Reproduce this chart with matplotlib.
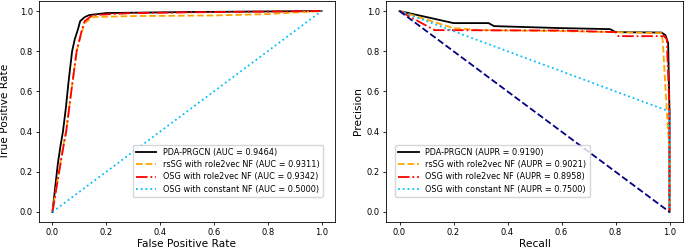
import matplotlib
matplotlib.use("Agg")
import matplotlib.pyplot as plt

# ROC data
roc_pda_fpr = [0.0, 0.01, 0.02, 0.03, 0.039, 0.05, 0.06, 0.073, 0.083, 0.095, 0.103, 0.12, 0.137, 0.2, 0.5, 1.0]
roc_pda_tpr = [0.0, 0.12, 0.24, 0.33, 0.40, 0.52, 0.65, 0.80, 0.86, 0.91, 0.95, 0.97, 0.98, 0.99, 0.995, 1.0]
roc_rssg_fpr = [0.0, 0.02, 0.04, 0.051, 0.07, 0.09, 0.11, 0.12, 0.15, 0.3, 0.6, 0.8, 1.0]
roc_rssg_tpr = [0.0, 0.17, 0.33, 0.40, 0.60, 0.80, 0.90, 0.94, 0.97, 0.975, 0.978, 0.985, 1.0]
roc_osg_fpr = [0.0, 0.02, 0.04, 0.051, 0.07, 0.09, 0.11, 0.12, 0.15, 0.3, 0.6, 1.0]
roc_osg_tpr = [0.0, 0.16, 0.32, 0.40, 0.60, 0.80, 0.91, 0.95, 0.98, 0.99, 0.995, 1.0]
roc_const_fpr = [0.0, 1.0]
roc_const_tpr = [0.0, 1.0]

# PR data
pr_pda_rec = [0.0, 0.2, 0.33, 0.35, 0.6, 0.78, 0.8, 0.97, 0.985, 0.995, 1.0, 1.0]
pr_pda_pre = [1.0, 0.94, 0.94, 0.925, 0.915, 0.91, 0.895, 0.893, 0.88, 0.84, 0.5, 0.0]
pr_rssg_rec = [0.0, 0.2, 0.3, 0.6, 0.8, 0.97, 0.975, 0.99, 1.0, 1.0]
pr_rssg_pre = [1.0, 0.915, 0.905, 0.9, 0.895, 0.89, 0.85, 0.5, 0.3, 0.0]
pr_osg_rec = [0.0, 0.13, 0.6, 0.8, 0.81, 0.98, 0.99, 1.0, 1.0]
pr_osg_pre = [1.0, 0.905, 0.903, 0.895, 0.875, 0.875, 0.86, 0.5, 0.0]
pr_const_rec = [0.0, 1.0, 1.0]
pr_const_pre = [1.0, 0.5, 0.0]
pr_base_rec = [0.0, 1.0]
pr_base_pre = [1.0, 0.0]

roc_labels = ["PDA-PRGCN (AUC = 0.9464)", "rsSG with role2vec NF (AUC = 0.9311)",
              "OSG with role2vec NF (AUC = 0.9342)", "OSG with constant NF (AUC = 0.5000)"]
pr_labels = ["PDA-PRGCN (AUPR = 0.9190)", "rsSG with role2vec NF (AUPR = 0.9021)",
             "OSG with role2vec NF (AUPR = 0.8958)", "OSG with constant NF (AUPR = 0.7500)"]

fig = plt.figure(figsize=(6.85, 2.49), dpi=100)
ax1 = fig.add_axes([39/685, 27/249, 296/685, 221/249])
ax2 = fig.add_axes([386/685, 27/249, 297/685, 221/249])

lw = 1.3
styles = [dict(color="black", ls="-"), dict(color="orange", ls="--"),
          dict(color="red", ls="-."), dict(color="deepskyblue", ls=":")]

for (x, y), lab, st in zip([(roc_pda_fpr, roc_pda_tpr), (roc_rssg_fpr, roc_rssg_tpr),
                            (roc_osg_fpr, roc_osg_tpr), (roc_const_fpr, roc_const_tpr)], roc_labels, styles):
    ax1.plot(x, y, lw=lw, label=lab, **st)
ax1.set_xlabel("False Positive Rate", fontsize=7.7, labelpad=1)
ax1.set_ylabel("True Positive Rate", fontsize=7.7, labelpad=6.5)
ax1.legend(loc="lower right", bbox_to_anchor=(0.959, 0.113), borderaxespad=0,
           fontsize=5.9, handlelength=2.5, labelspacing=0.4)

for (x, y), lab, st in zip([(pr_pda_rec, pr_pda_pre), (pr_rssg_rec, pr_rssg_pre),
                            (pr_osg_rec, pr_osg_pre), (pr_const_rec, pr_const_pre)], pr_labels, styles):
    ax2.plot(x, y, lw=lw, label=lab, **st)
ax2.plot(pr_base_rec, pr_base_pre, color="navy", ls="--", lw=lw)
ax2.set_xlabel("Recall", fontsize=7.7, labelpad=1)
ax2.set_ylabel("Precision", fontsize=7.7, labelpad=2.5)
ax2.legend(loc="lower left", bbox_to_anchor=(0.030, 0.113), borderaxespad=0,
           fontsize=5.9, handlelength=2.5, labelspacing=0.4)

for ax in (ax1, ax2):
    ax.set_xlim(-0.05, 1.05)
    ax.set_ylim(-0.05, 1.05)
    ax.set_xticks([0, 0.2, 0.4, 0.6, 0.8, 1.0])
    ax.set_yticks([0, 0.2, 0.4, 0.6, 0.8, 1.0])
    ax.tick_params(labelsize=6, length=2.5, width=0.6, pad=2)
    for s in ax.spines.values():
        s.set_linewidth(0.6)

fig.savefig("out.png", dpi=100)
